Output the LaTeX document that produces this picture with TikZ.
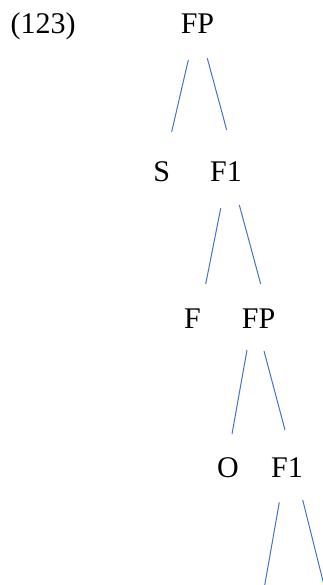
\documentclass[tikz,border=0pt]{standalone}
\usepackage{fontspec}
\setmainfont{Liberation Serif}
\definecolor{edgeblue}{RGB}{68,114,196}
\tikzset{
  lbl/.style={anchor=base,inner sep=0pt,font=\fontsize{30}{32}\selectfont},
  edge/.style={draw=edgeblue,line width=1pt}
}
\begin{document}
\begin{tikzpicture}[x=1pt,y=-1pt]
\useasboundingbox (0,0) rectangle (323,585);
\clip (0,0) rectangle (323,585);
% labels
\node[lbl] (ex)  at (43,34)    {(123)};
\node[lbl] (fp1) at (197.5,34) {FP};
\node[lbl] (s)   at (161.7,182) {S};
\node[lbl] (f11) at (226,182)  {F1};
\node[lbl] (f)   at (192.5,328) {F};
\node[lbl] (fp2) at (258.5,328) {FP};
\node[lbl] (o)   at (228,477)  {O};
\node[lbl] (f12) at (287,477)  {F1};
% connector end points
\coordinate (a1) at (188.3,60);   \coordinate (b1) at (171.7,131.7);
\coordinate (a2) at (207.3,58.3); \coordinate (b2) at (226.7,130);
\coordinate (a3) at (220.7,208.3);\coordinate (b3) at (205.7,284);
\coordinate (a4) at (239.3,205);  \coordinate (b4) at (260.7,284);
\coordinate (a5) at (247,350);    \coordinate (b5) at (232,434);
\coordinate (a6) at (264,351);    \coordinate (b6) at (285,430);
\coordinate (a7) at (279.3,502.3);\coordinate (b7) at (262.1,600);
\coordinate (a8) at (302.7,500);  \coordinate (b8) at (327.7,600);
\foreach \i in {1,...,8} { \draw[edge] (a\i) -- (b\i); }
\end{tikzpicture}
\end{document}
